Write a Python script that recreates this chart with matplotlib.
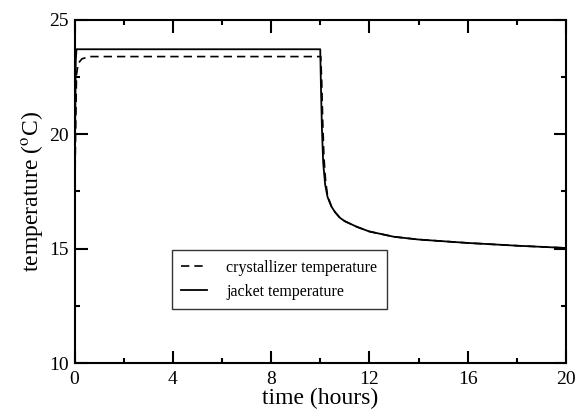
import matplotlib
matplotlib.use("Agg")
import matplotlib.pyplot as plt
from matplotlib.ticker import MultipleLocator

# jacket temperature profile (hours, deg C)
t_jacket = [0.0, 0.02, 0.05, 0.08, 2.0, 4.0, 6.0, 8.0, 10.0,
            10.03, 10.07, 10.12, 10.2, 10.3, 10.45, 10.6, 10.8,
            11.0, 11.5, 12.0, 13.0, 14.0, 16.0, 18.0, 20.0]
T_jacket = [15.0, 19.5, 23.2, 23.72, 23.72, 23.72, 23.72, 23.72, 23.72,
            22.0, 20.2, 18.75, 17.8, 17.25, 16.85, 16.6, 16.35,
            16.2, 15.95, 15.75, 15.52, 15.4, 15.25, 15.13, 15.03]

# crystallizer temperature profile (hours, deg C)
t_cryst = [0.0, 0.03, 0.08, 0.15, 0.3, 0.6, 2.0, 4.0, 6.0, 8.0, 10.02,
           10.06, 10.1, 10.15, 10.22, 10.3, 10.45, 10.6, 10.8,
           11.0, 11.5, 12.0, 13.0, 14.0, 16.0, 18.0, 20.0]
T_cryst = [15.0, 19.0, 22.6, 23.1, 23.3, 23.4, 23.4, 23.4, 23.4, 23.4, 23.4,
           22.3, 20.6, 19.0, 17.95, 17.3, 16.87, 16.6, 16.35,
           16.2, 15.95, 15.75, 15.52, 15.4, 15.25, 15.13, 15.03]

plt.rcParams["font.family"] = ["Liberation Serif", "DejaVu Serif"]
plt.rcParams["mathtext.fontset"] = "stix"

fig = plt.figure(figsize=(5.75, 4.12), dpi=100)
ax = fig.add_axes([0.1296, 0.1189, 0.8547, 0.8326])

ax.plot(t_cryst, T_cryst, color="black", linestyle=(0, (5, 3)), linewidth=1.2,
        label="crystallizer temperature")
ax.plot(t_jacket, T_jacket, color="black", linestyle="-", linewidth=1.3,
        label="jacket temperature")

ax.set_xlim(0, 20)
ax.set_ylim(10, 25)
ax.xaxis.set_major_locator(MultipleLocator(4))
ax.xaxis.set_minor_locator(MultipleLocator(2))
ax.yaxis.set_major_locator(MultipleLocator(5))
ax.yaxis.set_minor_locator(MultipleLocator(2.5))

ax.tick_params(which="both", direction="in", top=True, right=True,
               width=1.5, labelsize=14)
ax.tick_params(which="major", length=9)
ax.tick_params(which="minor", length=3.5)
ax.tick_params(axis="x", which="major", pad=5.5)
ax.tick_params(axis="y", which="major", pad=4)
for sp in ax.spines.values():
    sp.set_linewidth(1.5)

ax.set_xlabel("time (hours)", fontsize=17, labelpad=0)
ax.set_ylabel(r"temperature ($^{\mathrm{o}}$C)", fontsize=17, labelpad=3)

leg = ax.legend(loc="lower left", bbox_to_anchor=(0.198, 0.157),
                fontsize=11.5, frameon=True, fancybox=False,
                edgecolor="black", handlelength=1.6, handletextpad=1.2,
                borderpad=0.6, labelspacing=0.5, borderaxespad=0)
leg.get_frame().set_linewidth(1.0)

fig.savefig("out.png", dpi=100)
